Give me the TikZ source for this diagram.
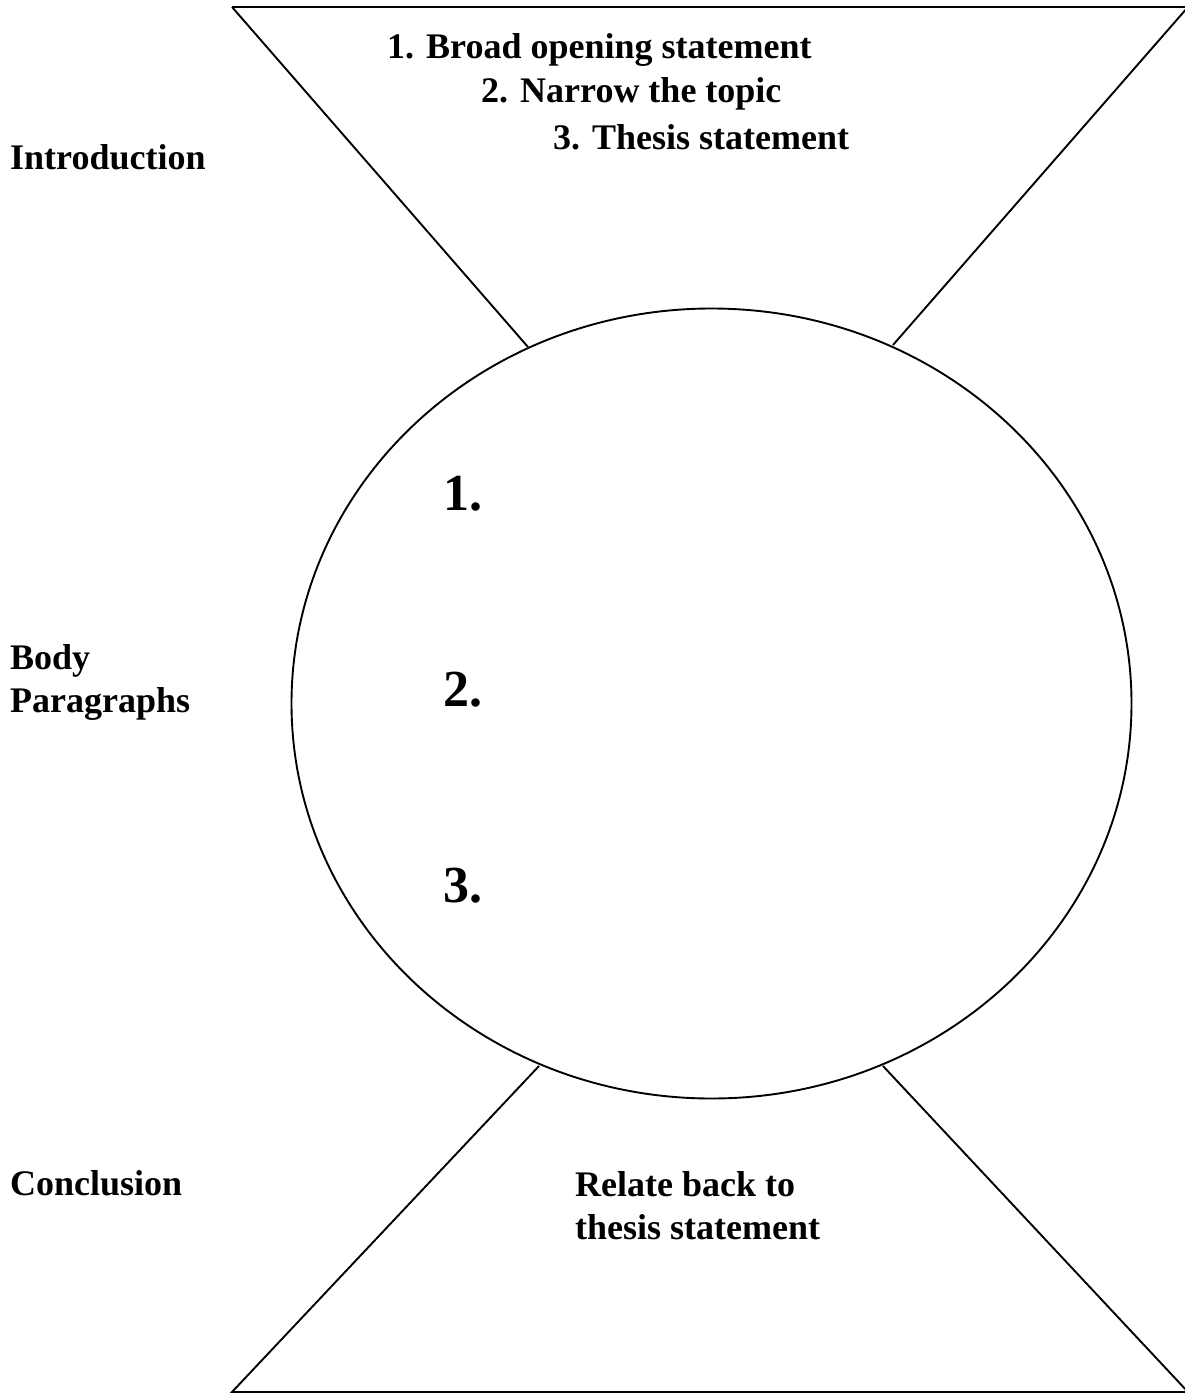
\documentclass[tikz,border=0pt]{standalone}
\usepackage{fontspec}
\setmainfont{Liberation Serif}
\usetikzlibrary{positioning}
\tikzset{lbl/.style={anchor=west,inner sep=0pt,align=left,font=\bfseries\fontsize{36}{43}\selectfont},
  num/.style={lbl,font=\bfseries\fontsize{52}{60}\selectfont}}

\begin{document}
\begin{tikzpicture}[x=1pt,y=-1pt]
			\useasboundingbox (0,0) rectangle (1184,1394);
			\begin{scope}[line width=1.9pt]
			% introduction funnel
			\draw (232,7)--(1188,7);
			\draw (232,7)--(528,347);
			\draw (1188,7)--(893,345);
			% body
			\draw (711.5,703.5) ellipse (420 and 395);
			% conclusion funnel
			\draw (539,1066)--(232,1392)--(1188,1392)--(883,1066);
			\end{scope}

			\node[lbl] (open) at (387,50) {1. Broad opening statement};
			\node[lbl] (narrow) at (481,94) {2. Narrow the topic};
			\node[lbl] (thesis) at (553,137) {3. Thesis statement};
			\node[lbl] (intro) at (10,157) {Introduction};
			\node[num] (one) at (443,494) {1.};
			\node[num] (two) at (443,690) {2.};
			\node[num] (three) at (443,886) {3.};
			\node[lbl] (body) at (10,682) {Body\\Paragraphs};
			\node[lbl] (concl) at (10,1183) {Conclusion};
			\node[lbl] (relate) at (575,1206) {Relate back to\\thesis statement};
\end{tikzpicture}
\end{document}
